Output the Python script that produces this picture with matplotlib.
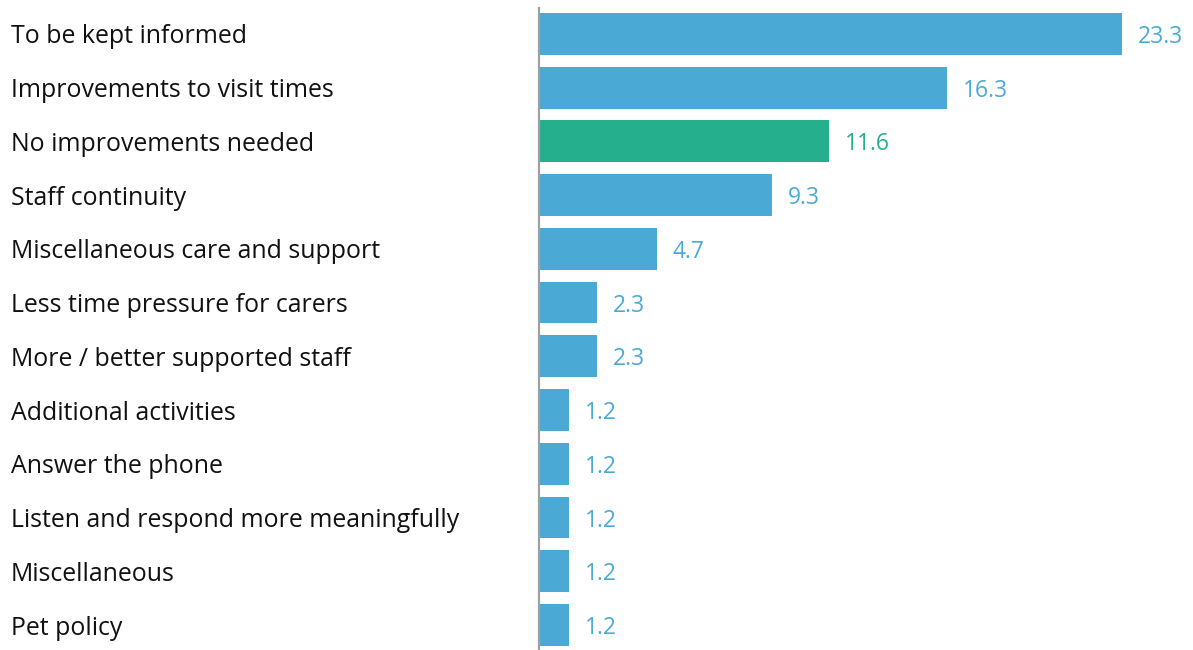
import matplotlib.pyplot as plt
import matplotlib.transforms as mtransforms

categories = [
    "To be kept informed",
    "Improvements to visit times",
    "No improvements needed",
    "Staff continuity",
    "Miscellaneous care and support",
    "Less time pressure for carers",
    "More / better supported staff",
    "Additional activities",
    "Answer the phone",
    "Listen and respond more meaningfully",
    "Miscellaneous",
    "Pet policy",
]
values = [23.3, 16.3, 11.6, 9.3, 4.7, 2.3, 2.3, 1.2, 1.2, 1.2, 1.2, 1.2]
highlight = "No improvements needed"

BLUE = "#4BAAD5"
GREEN = "#26AF8C"

plt.rcParams['font.family'] = ['Open Sans', 'DejaVu Sans']

fig = plt.figure(figsize=(11.93, 6.5), dpi=100)
ax = fig.add_axes([0.4518, 0.0, 0.524, 0.988])

colors = [GREEN if c == highlight else BLUE for c in categories]
pos = list(range(len(categories)))
ax.barh(pos, values, height=0.78, color=colors)

ax.set_ylim(len(categories) - 0.535, -0.484)
ax.set_xlim(0, 25)

# category names sit at the left edge of the figure
label_tf = mtransforms.blended_transform_factory(fig.transFigure, ax.transData)
for p, name in zip(pos, categories):
    ax.text(0.0092, p, name, transform=label_tf, ha='left',
            va='center_baseline', fontsize=17.95, color='#111111')

for p, v, c in zip(pos, values, colors):
    ax.annotate(f"{v:.1f}", (v, p), xytext=(11.5, 0), textcoords='offset points',
                ha='left', va='center_baseline', fontsize=16.5, color=c)

for side in ['top', 'right', 'bottom']:
    ax.spines[side].set_visible(False)
ax.spines['left'].set_color('#A0A0A0')
ax.spines['left'].set_linewidth(1.6)
ax.set_xticks([])
ax.set_yticks([])

fig.savefig("out.png", dpi=100)
